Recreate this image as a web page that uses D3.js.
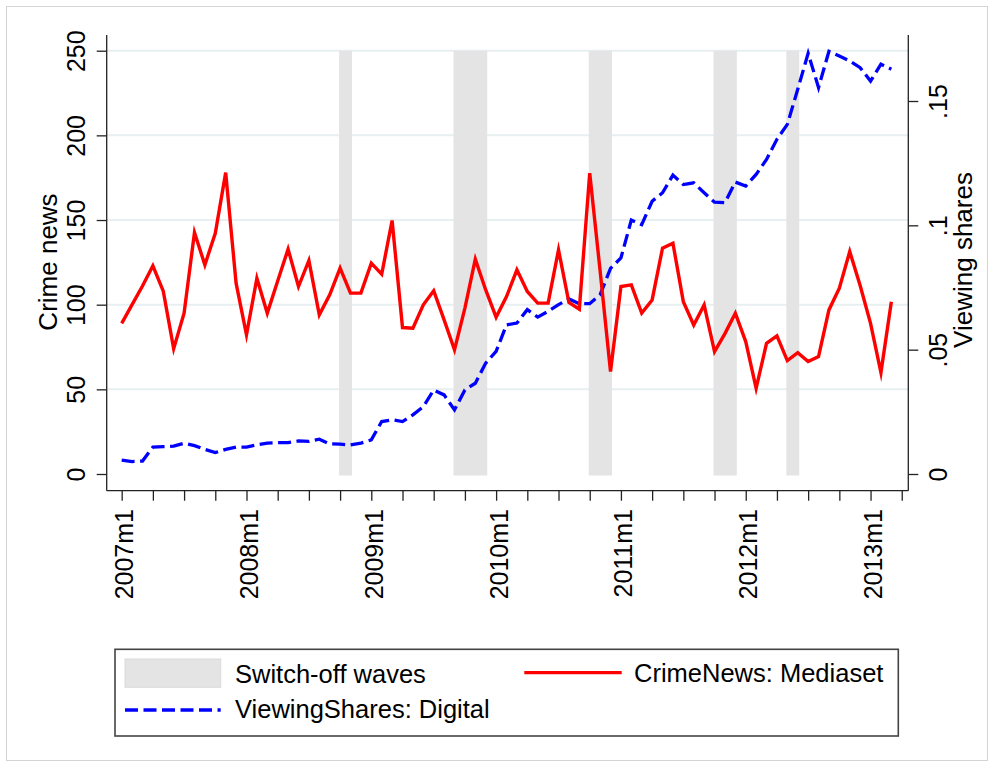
<!DOCTYPE html>
<html>
<head>
<meta charset="utf-8">
<script src="https://cdn.jsdelivr.net/npm/d3@7/dist/d3.min.js"></script>
<style>
  html, body { margin: 0; padding: 0; background: #fff; }
  svg text { font-family: "Liberation Sans", Arial, Helvetica, sans-serif; fill: #000; }
</style>
</head>
<body>
<svg id="chart" width="994" height="767"></svg>
<script>
// ---------------- data ----------------
const startYear = 2007;
const crimeNews = [89, 100, 111, 123, 108, 74, 95, 142.6, 123.5, 142.2, 178, 112.7, 82.2, 115.6, 95, 114, 132.8, 110.7, 126.1, 94,
  105.8, 121.6, 106.8, 106.8, 124.5, 118, 149.7, 86.5, 86.1, 99.9, 108.2, 91, 73.3, 98, 126.9, 108.7, 92.6, 104.8, 120.6, 107.8,
  100.9, 100.9, 132.4, 101.3, 97.3, 177.7, 120, 60.5, 110.7, 111.7, 95, 102.8, 133.4, 136.3, 101.8, 88, 99.9, 72.3, 82.9, 95,
  78.2, 50.6, 77.2, 81.6, 67, 71.7, 66.4, 69.3, 96.9, 109.7, 131.4, 111.3, 89, 59.9, 101.8];
const viewingShares = [0.0056, 0.0050, 0.0052, 0.0108, 0.0110, 0.0112, 0.0124, 0.0114, 0.0099, 0.0086,
  0.0099, 0.0108, 0.0108, 0.0117, 0.0124, 0.0126, 0.0126, 0.0133, 0.0131, 0.0140,
  0.0121, 0.0120, 0.0117, 0.0124, 0.0137, 0.0211, 0.0218, 0.0211, 0.0238, 0.0271,
  0.0338, 0.0318, 0.0258, 0.0338, 0.0365, 0.0446, 0.0493, 0.0600, 0.0607, 0.0661,
  0.0631, 0.0654, 0.0681, 0.0704, 0.0685, 0.0685, 0.0721, 0.0827, 0.0869, 0.1021,
  0.1003, 0.1097, 0.1131, 0.1202, 0.1164, 0.1171, 0.1131, 0.1093, 0.1091, 0.1174,
  0.1158, 0.1205, 0.1265, 0.1346, 0.1406, 0.1547, 0.1692, 0.1554, 0.1700, 0.1681,
  0.1661, 0.1634, 0.1580, 0.1648, 0.1628];
// switch-off waves: first and last month of each wave
const waveStart = ["2008m10", "2009m9", "2010m10", "2011m10", "2012m5"];
const waveEnd   = ["2008m11", "2009m12", "2010m12", "2011m12", "2012m6"];
const xTickLabels = ["2007m1", "2008m1", "2009m1", "2010m1", "2011m1", "2012m1", "2013m1"];
const yLeftTicks = [0, 50, 100, 150, 200, 250];
const yRightTicks = [0, 0.05, 0.1, 0.15];
const yRightTickLabels = ["0", ".05", ".1", ".15"];
const legendLabels = ["Switch-off waves", "CrimeNews: Mediaset", "ViewingShares: Digital"];

// month label <-> index
const monthIndex = s => { const [y, m] = s.split("m").map(Number); return (y - startYear) * 12 + (m - 1); };

// ---------------- layout ----------------
const svg = d3.select("#chart");
const L = 106.7, R = 908.3, T = 35, B = 490.7;

const x = d3.scaleLinear().domain([-1.44, 75.63]).range([L, R]);
const yL = d3.scaleLinear().domain([0, 250]).range([474, 50.7]);
const yR = d3.scaleLinear().domain([0, 0.15]).range([474, 101]);

// outer frame
svg.append("rect").attr("x", 6.5).attr("y", 6.5).attr("width", 981).attr("height", 754)
  .attr("fill", "none").attr("stroke", "#d4d4d4").attr("stroke-width", 1);

// gridlines
svg.append("g").selectAll("line").data(yLeftTicks.filter(d => d > 0)).join("line")
  .attr("x1", L).attr("x2", R).attr("y1", d => yL(d)).attr("y2", d => yL(d))
  .attr("stroke", "#e7eff1").attr("stroke-width", 2);

// switch-off wave bands
svg.append("g").selectAll("rect").data(waveStart.map((s, i) => [monthIndex(s), monthIndex(waveEnd[i])])).join("rect")
  .attr("x", d => x(d[0]) - 1)
  .attr("width", d => x(d[1]) - x(d[0]) + 2.5)
  .attr("y", yL(250))
  .attr("height", yL(0) - yL(250) + 1.5)
  .attr("fill", "#e4e4e4");

// lines
const idx = d3.range(crimeNews.length);
svg.append("path")
  .attr("d", d3.line().x(i => x(i)).y(i => yR(viewingShares[i]))(idx))
  .attr("fill", "none").attr("stroke", "#0000ff").attr("stroke-width", 3.3)
  .attr("stroke-dasharray", "13,5.5");
svg.append("path")
  .attr("d", d3.line().x(i => x(i)).y(i => yL(crimeNews[i]))(idx))
  .attr("fill", "none").attr("stroke", "#ff0000").attr("stroke-width", 3.4)
  .attr("stroke-linejoin", "miter").attr("stroke-miterlimit", 6);

// axes lines
const axisColor = "#222";
svg.append("line").attr("x1", L).attr("x2", L).attr("y1", T).attr("y2", B).attr("stroke", axisColor).attr("stroke-width", 1.3);
svg.append("line").attr("x1", R).attr("x2", R).attr("y1", T).attr("y2", B).attr("stroke", axisColor).attr("stroke-width", 1.3);
svg.append("line").attr("x1", L).attr("x2", R).attr("y1", B).attr("y2", B).attr("stroke", axisColor).attr("stroke-width", 1.3);

const fontFam = "'Liberation Sans', Arial, sans-serif";

// left axis
const gL = svg.append("g").attr("transform", `translate(${L},0)`)
  .call(d3.axisLeft(yL).tickValues(yLeftTicks).tickSize(10).tickSizeOuter(0).tickFormat(d3.format("d")));
gL.select(".domain").remove();
gL.selectAll(".tick line").attr("stroke", axisColor).attr("stroke-width", 1.3);
gL.selectAll(".tick text").attr("transform", "rotate(-90)").attr("x", 0).attr("y", -21.7).attr("dy", 0)
  .attr("text-anchor", "middle").style("font-size", "25px").style("font-family", fontFam);

// right axis
const gR = svg.append("g").attr("transform", `translate(${R},0)`)
  .call(d3.axisRight(yR).tickValues(yRightTicks).tickSize(10).tickSizeOuter(0).tickFormat((d, i) => yRightTickLabels[i]));
gR.select(".domain").remove();
gR.selectAll(".tick line").attr("stroke", axisColor).attr("stroke-width", 1.3);
gR.selectAll(".tick text").attr("transform", "rotate(-90)").attr("x", 0).attr("y", 38.4).attr("dy", 0)
  .attr("text-anchor", "middle").style("font-size", "25px").style("font-family", fontFam);

// bottom axis
const xTickVals = d3.range(0, 76, 3);
const labelIdx = xTickLabels.map(monthIndex);
const gB = svg.append("g").attr("transform", `translate(0,${B})`)
  .call(d3.axisBottom(x).tickValues(xTickVals).tickSize(10).tickSizeOuter(0)
    .tickFormat(d => { const k = labelIdx.indexOf(d); return k >= 0 ? xTickLabels[k] : ""; }));
gB.select(".domain").remove();
gB.selectAll(".tick line").attr("stroke", axisColor).attr("stroke-width", 1.3);
gB.selectAll(".tick text").attr("transform", "rotate(-90)").attr("x", -18.3).attr("y", 11).attr("dy", 0)
  .attr("text-anchor", "end").style("font-size", "25px").style("font-family", fontFam);

// axis titles
svg.append("text").attr("transform", "translate(56.7,262) rotate(-90)").attr("text-anchor", "middle")
  .style("font-size", "26px").text("Crime news");
svg.append("text").attr("transform", "translate(971.7,260) rotate(-90)").attr("text-anchor", "middle")
  .style("font-size", "26px").text("Viewing shares");

// legend
const lg = svg.append("g");
lg.append("rect").attr("x", 115).attr("y", 649.3).attr("width", 783.3).attr("height", 86.7)
  .attr("fill", "#fff").attr("stroke", "#444").attr("stroke-width", 1.6);
lg.append("rect").attr("x", 125).attr("y", 659).attr("width", 95.7).attr("height", 28.3)
  .attr("fill", "#e4e4e4").attr("stroke", "#dadada").attr("stroke-width", 1);
lg.append("text").attr("x", 235).attr("y", 682.7).style("font-size", "25.5px").text(legendLabels[0]);
lg.append("line").attr("x1", 524.3).attr("x2", 621.7).attr("y1", 672.7).attr("y2", 672.7)
  .attr("stroke", "#ff0000").attr("stroke-width", 3.3);
lg.append("text").attr("x", 634).attr("y", 682.3).style("font-size", "25.5px").text(legendLabels[1]);
lg.append("line").attr("x1", 125).attr("x2", 220.7).attr("y1", 710).attr("y2", 710)
  .attr("stroke", "#0000ff").attr("stroke-width", 3.3).attr("stroke-dasharray", "13,5.5");
lg.append("text").attr("x", 235).attr("y", 718.3).style("font-size", "25.5px").text(legendLabels[2]);
</script>
</body>
</html>
